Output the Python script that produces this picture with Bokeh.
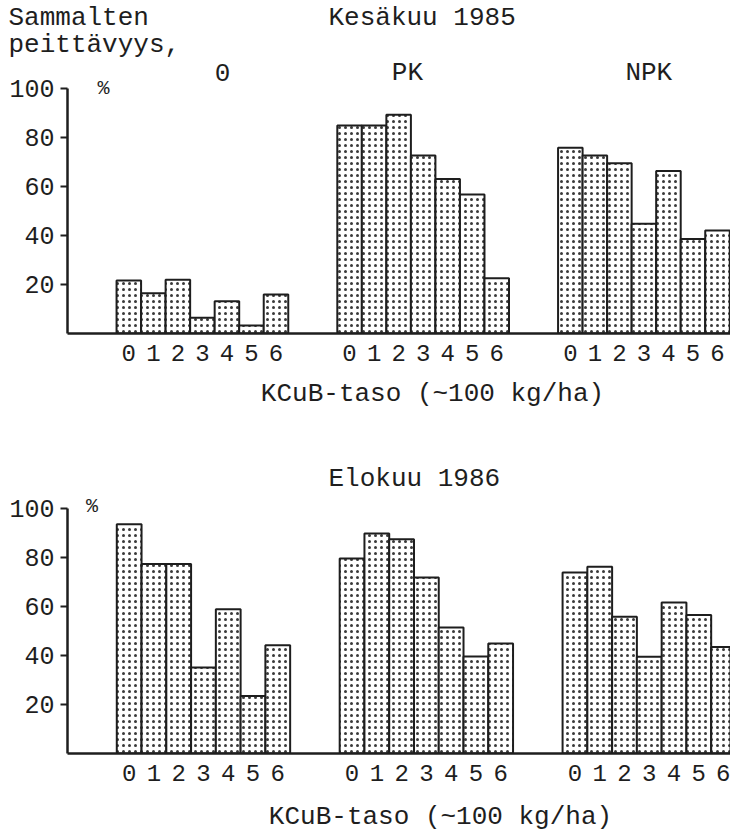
from bokeh.plotting import figure
from bokeh.models import Range1d, FixedTicker, Label, ColumnDataSource
from bokeh.layouts import column
from bokeh.core.properties import value
from bokeh.embed import file_html
from bokeh.resources import INLINE

# ---- data ----
levels = ["0", "1", "2", "3", "4", "5", "6"]
groups = ["0", "PK", "NPK"]
y_ticks = [20, 40, 60, 80, 100]

jun1985_0 = [21.6, 16.4, 21.9, 6.4, 13.2, 3.3, 15.9]
jun1985_pk = [84.9, 84.9, 89.3, 72.7, 63.1, 56.7, 22.6]
jun1985_npk = [75.8, 72.7, 69.5, 44.8, 66.3, 38.6, 42.0]

aug1986_0 = [93.6, 77.3, 77.3, 35.1, 58.9, 23.5, 44.2]
aug1986_pk = [79.6, 89.8, 87.5, 71.8, 51.4, 39.6, 44.9]
aug1986_npk = [73.9, 76.2, 55.8, 39.5, 61.6, 56.5, 43.5]

title_top = "Kesäkuu 1985"
title_bottom = "Elokuu 1986"
ylab1 = "Sammalten"
ylab2 = "peittävyys,"
xlab = "KCuB-taso (~100 kg/ha)"

FONT = "Liberation Mono"
INK = "#1e1e1e"
GROUP_STEP = 9
W = 730


def positions():
    xs, labels = [], []
    for gi, _ in enumerate(groups):
        for li, lv in enumerate(levels):
            xs.append(gi * GROUP_STEP + li)
            labels.append(lv)
    return xs, labels


def textfig(height, items):
    """items: list of (x_px, y_px, text, align)"""
    p = figure(width=W, height=height, output_backend="svg", toolbar_location=None,
               x_range=Range1d(0, W), y_range=Range1d(height, 0),
               x_axis_type=None, y_axis_type=None, frame_align=False,
               min_border=0, min_border_left=0, min_border_right=0,
               min_border_top=0, min_border_bottom=0)
    p.outline_line_color = None
    p.grid.visible = False
    for x, y, t, a in items:
        p.text(x=[x], y=[y], text=[t], text_font=value(FONT), text_font_size="26px",
               text_color=INK, text_align=a, text_baseline="middle")
    return p


def panel(series, frame_h, y_end, x_start, x_end):
    xs, labels = positions()
    vals = [v for s in series for v in s]
    p = figure(frame_width=W - 67, frame_height=frame_h,
               output_backend="svg", toolbar_location=None, frame_align=False,
               x_range=Range1d(x_start, x_end), y_range=Range1d(0, y_end),
               min_border_left=67, min_border_right=0,
               min_border_top=0, min_border_bottom=45)
    p.outline_line_color = None
    p.grid.visible = False
    p.background_fill_color = "white"
    p.border_fill_color = "white"

    src = ColumnDataSource(dict(x=xs, top=vals))
    p.vbar(x="x", top="top", bottom=0, width=1.0, source=src,
           fill_color="white", line_color=INK, line_width=2,
           hatch_pattern="dot", hatch_scale=6, hatch_weight=1.2, hatch_color="#3a3a3a")

    ya = p.yaxis[0]
    ya.ticker = FixedTicker(ticks=y_ticks)
    ya.bounds = (0, 100)
    ya.minor_tick_line_color = None
    ya.major_tick_out = 7
    ya.major_tick_in = 0
    ya.major_tick_line_width = 2
    ya.axis_line_width = 2.5
    ya.axis_line_color = INK
    ya.major_tick_line_color = INK
    ya.major_label_text_font = FONT
    ya.major_label_text_font_size = "25px"
    ya.major_label_text_color = INK
    ya.major_label_standoff = 6

    xa = p.xaxis[0]
    xa.ticker = FixedTicker(ticks=xs)
    xa.major_label_overrides = {x: l for x, l in zip(xs, labels)}
    xa.minor_tick_line_color = None
    xa.major_tick_line_color = None
    xa.major_tick_out = 0
    xa.major_tick_in = 0
    xa.axis_line_width = 2.5
    xa.axis_line_color = INK
    xa.major_label_text_font = FONT
    xa.major_label_text_font_size = "24px"
    xa.major_label_text_color = INK
    xa.major_label_standoff = 11
    return p


def lab(p, x, y, text, size="26px"):
    p.add_layout(Label(x=x, y=y, text=text, text_font=FONT, text_font_size=size,
                       text_color=INK, text_align="center", text_baseline="middle"))


# header for the first panel (0..58 px)
h1 = textfig(58, [(8, 17, ylab1, "left"), (8, 44, ylab2, "left"),
                  (328, 17, title_top, "left")])

# first panel: frame 58..333 px, baseline at 333
p1 = panel([jun1985_0, jun1985_pk, jun1985_npk], 275, 112.24, -2.5, 24.53)
lab(p1, 3.82, 106.5, groups[0])
lab(p1, 11.36, 106.5, groups[1])
lab(p1, 21.2, 106.5, groups[2])
lab(p1, -1.03, 100, "%", size="20px")

# middle text strip (378..496 px)
m = textfig(118, [(432, 15, xlab, "center"), (328, 100, title_bottom, "left")])

# second panel: frame 496..753 px
p2 = panel([aug1986_0, aug1986_pk, aug1986_npk], 257, 104.9, -2.49, 24.28)
lab(p2, -1.5, 101, "%", size="20px")

# footer (798..830 px)
f = textfig(32, [(440, 18, xlab, "center")])

layout = column(h1, p1, m, p2, f, spacing=0)
open("out.html", "w").write(file_html(layout, INLINE))
